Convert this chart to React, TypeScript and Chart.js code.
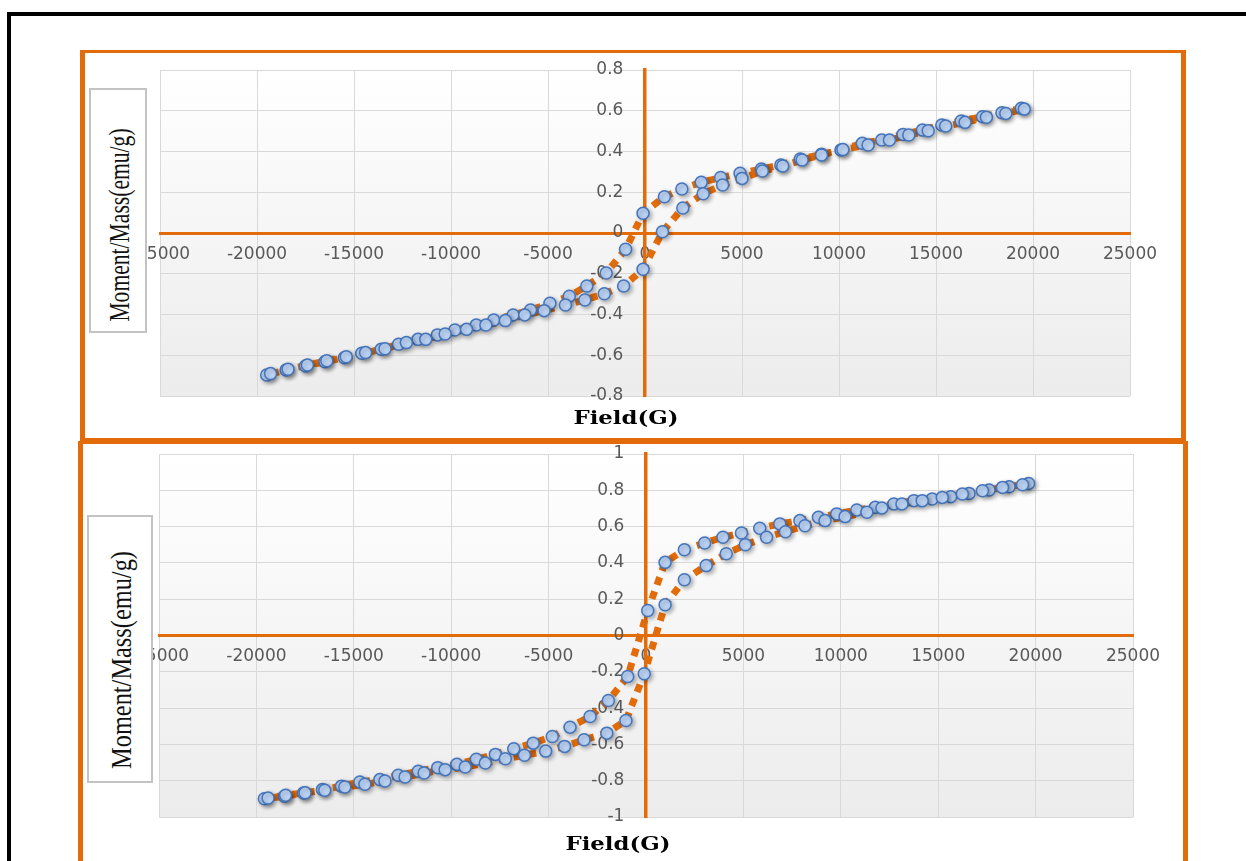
import React, { useEffect, useRef } from "react";
import { Chart, registerables } from "chart.js";

Chart.register(...registerables);

// ---------- DATA ----------
// Top chart: descending branch (from +H to -H)
const topDescField = [19400, 18400, 17400, 16300, 15300, 14300, 13300, 12200, 11200, 10100, 9100, 8000, 7000, 6000, 4900, 3900, 2900, 1900, 1000, -100, -1000, -2000, -3000, -3900, -4900, -5900, -6800, -7800, -8700, -9800, -10700, -11700, -12700, -13600, -14600, -15500, -16500, -17500, -18500, -19500];
const topDescMoment = [0.612, 0.590, 0.571, 0.550, 0.530, 0.505, 0.484, 0.456, 0.440, 0.407, 0.386, 0.363, 0.334, 0.314, 0.293, 0.272, 0.249, 0.216, 0.178, 0.097, -0.080, -0.196, -0.260, -0.310, -0.345, -0.378, -0.402, -0.427, -0.452, -0.476, -0.500, -0.522, -0.546, -0.571, -0.590, -0.612, -0.632, -0.653, -0.672, -0.697];
// Top chart: ascending branch (from -H to +H)
const topAscField = [-19300, -18400, -17400, -16400, -15400, -14400, -13400, -12300, -11300, -10300, -9200, -8200, -7200, -6200, -5200, -4100, -3100, -2100, -1100, -100, 900, 1950, 3000, 4000, 5000, 6050, 7100, 8100, 9100, 10200, 11500, 12600, 13600, 14600, 15500, 16500, 17600, 18600, 19550];
const topAscMoment = [-0.690, -0.669, -0.648, -0.627, -0.607, -0.587, -0.568, -0.538, -0.522, -0.496, -0.473, -0.452, -0.430, -0.402, -0.381, -0.353, -0.329, -0.298, -0.260, -0.178, 0.006, 0.123, 0.193, 0.236, 0.268, 0.304, 0.329, 0.358, 0.383, 0.410, 0.432, 0.456, 0.481, 0.502, 0.525, 0.543, 0.568, 0.587, 0.608];

// Bottom chart: descending branch
const botDescField = [19640, 18640, 17610, 16580, 15640, 14690, 13750, 12720, 11770, 10820, 9790, 8850, 7900, 6870, 5840, 4900, 3950, 3010, 1970, 980, 90, -940, -1930, -2870, -3900, -4810, -5790, -6790, -7730, -8710, -9710, -10690, -11690, -12720, -13660, -14690, -15630, -16610, -17580, -18560, -19590];
const botDescMoment = [0.838, 0.820, 0.802, 0.783, 0.765, 0.752, 0.743, 0.725, 0.706, 0.692, 0.670, 0.651, 0.633, 0.615, 0.591, 0.565, 0.541, 0.510, 0.472, 0.403, 0.138, -0.226, -0.358, -0.446, -0.505, -0.556, -0.593, -0.624, -0.655, -0.682, -0.710, -0.728, -0.748, -0.770, -0.794, -0.807, -0.830, -0.849, -0.868, -0.886, -0.899];
// Bottom chart: ascending branch
const botAscField = [-19400, -18500, -17500, -16490, -15460, -14430, -13400, -12370, -11390, -10310, -9280, -8250, -7220, -6240, -5150, -4180, -3180, -2010, -1030, -90, 980, 1970, 3090, 4120, 5100, 6190, 7160, 8160, 9190, 10220, 11340, 12110, 13140, 14180, 15210, 16240, 17270, 18300, 19330];
const botAscMoment = [-0.895, -0.880, -0.866, -0.853, -0.835, -0.820, -0.802, -0.780, -0.758, -0.739, -0.725, -0.703, -0.679, -0.660, -0.637, -0.611, -0.574, -0.538, -0.468, -0.211, 0.169, 0.307, 0.385, 0.450, 0.500, 0.541, 0.572, 0.605, 0.633, 0.655, 0.679, 0.703, 0.725, 0.743, 0.761, 0.780, 0.798, 0.816, 0.831];

const xTickRange = [-25000, 25000];
const xTickStep = 5000;
const topYRange = [-0.8, 0.8];
const botYRange = [-1, 1];
const yTickStep = 0.2;
const xTitle = "Field(G)";
const yTitle = "Moment/Mass(emu/g)";

// ---------- STYLE ----------
const ORANGE = "#E36C0A";
const GRID = "#d9d9d9";
const TICK = "#595959";
const Y_LABEL_GAP = "\u00A0\u00A0\u00A0\u00A0";

const zip = (xs: number[], ys: number[]) => xs.map((x, i) => ({ x, y: ys[i] }));

const bgPlugin = {
  id: "plotBg",
  beforeDraw(chart: any) {
    const { ctx, chartArea } = chart;
    const { left, top, right, bottom } = chartArea;
    const g = ctx.createLinearGradient(0, top, 0, bottom);
    g.addColorStop(0, "#ffffff");
    g.addColorStop(1, "#ececec");
    ctx.save();
    ctx.fillStyle = g;
    ctx.fillRect(left, top, right - left, bottom - top);
    ctx.restore();
  },
};

const shadowPlugin = {
  id: "markerShadow",
  beforeDatasetDraw(chart: any, args: any) {
    if (args.index !== 0) return;
    const ctx = chart.ctx;
    ctx.save();
    ctx.shadowColor = "rgba(0,0,0,0.3)";
    ctx.shadowBlur = 4;
    ctx.shadowOffsetX = 2;
    ctx.shadowOffsetY = 2;
  },
  afterDatasetDraw(chart: any, args: any) {
    if (args.index !== 0) return;
    chart.ctx.restore();
  },
};

function makeConfig(points: { x: number; y: number }[], yRange: number[], pad: any) {
  return {
    type: "scatter" as const,
    data: {
      datasets: [
        {
          // markers (drawn on top)
          data: points,
          showLine: false,
          pointRadius: 6,
          pointBackgroundColor: "#bcd4f5",
          pointBorderColor: "#4374bd",
          pointBorderWidth: 1.5,
        },
        {
          // dotted connecting line
          data: points,
          showLine: true,
          borderColor: ORANGE,
          borderWidth: 7,
          borderDash: [8, 7],
          borderCapStyle: "butt",
          tension: 0,
          pointRadius: 0,
        },
      ],
    },
    options: {
      responsive: false,
      animation: false,
      devicePixelRatio: 1,
      events: [],
      layout: { padding: pad },
      plugins: { legend: { display: false }, tooltip: { enabled: false }, title: { display: false } },
      scales: {
        x: {
          type: "linear",
          min: xTickRange[0],
          max: xTickRange[1],
          position: { y: 0 },
          ticks: {
            stepSize: xTickStep,
            autoSkip: false,
            maxRotation: 0,
            color: TICK,
            font: { family: "DejaVu Sans", size: 17 },
            padding: 11,
            callback: (v: number) => String(v),
          },
          grid: {
            drawTicks: false,
            lineWidth: 1,
            color: (c: any) => (c.tick && c.tick.value === 0 ? "rgba(0,0,0,0)" : GRID),
          },
          border: { display: true, color: ORANGE, width: 3 },
        },
        y: {
          type: "linear",
          min: yRange[0],
          max: yRange[1],
          position: { x: 0 },
          ticks: {
            stepSize: yTickStep,
            color: TICK,
            font: { family: "DejaVu Sans", size: 17 },
            padding: 0,
            callback: (v: number) => {
              const r = Math.round(v * 10) / 10;
              return (r === 0 ? "0" : String(r)) + Y_LABEL_GAP;
            },
          },
          grid: {
            drawTicks: false,
            lineWidth: 1,
            color: (c: any) => (c.tick && Math.abs(c.tick.value) < 1e-9 ? "rgba(0,0,0,0)" : GRID),
          },
          border: { display: true, color: ORANGE, width: 3.5 },
        },
      },
    },
    plugins: [bgPlugin, shadowPlugin],
  };
}

function HysteresisChart(props: {
  points: { x: number; y: number }[];
  yRange: number[];
  left: number;
  top: number;
  width: number;
  height: number;
  pad: any;
}) {
  const ref = useRef<HTMLCanvasElement | null>(null);
  useEffect(() => {
    if (!ref.current) return;
    const chart = new Chart(ref.current, makeConfig(props.points, props.yRange, props.pad) as any);
    return () => chart.destroy();
  }, []);
  return (
    <canvas
      ref={ref}
      width={props.width}
      height={props.height}
      style={{ position: "absolute", left: props.left, top: props.top, width: props.width, height: props.height }}
    />
  );
}

function YTitle(props: { left: number; top: number; width: number; height: number; textX: number; textY: number; scale: number }) {
  return (
    <div
      style={{
        position: "absolute",
        left: props.left,
        top: props.top,
        width: props.width,
        height: props.height,
        boxSizing: "border-box",
        border: "2px solid #c3c3c3",
        background: "#ffffff",
      }}
    >
      <div
        style={{
          position: "absolute",
          left: props.textX,
          top: props.textY,
          transform: `translate(-50%, -50%) rotate(-90deg) scaleX(${props.scale})`,
          whiteSpace: "nowrap",
          fontFamily: "'Liberation Serif', serif",
          fontSize: 29,
          lineHeight: 1,
          color: "#111",
        }}
      >
        {yTitle}
      </div>
    </div>
  );
}

function XTitle(props: { cx: number; cy: number }) {
  return (
    <div
      style={{
        position: "absolute",
        left: props.cx,
        top: props.cy,
        transform: "translate(-50%, -50%) scaleX(1.2)",
        whiteSpace: "nowrap",
        fontFamily: "'DejaVu Serif', serif",
        fontWeight: "bold",
        fontSize: 19,
        lineHeight: 1,
        color: "#000",
      }}
    >
      {xTitle}
    </div>
  );
}

export default function App() {
  const topPoints = [...zip(topDescField, topDescMoment), ...zip(topAscField, topAscMoment)];
  const botPoints = [...zip(botDescField, botDescMoment), ...zip(botAscField, botAscMoment)];
  return (
    <div style={{ position: "absolute", left: 0, top: 0, width: 1246, height: 861, overflow: "hidden", background: "#fff" }}>
      {/* outer black frame */}
      <div style={{ position: "absolute", left: 7, top: 12, width: 1400, height: 1000, borderLeft: "4px solid #000", borderTop: "4px solid #000" }} />
      {/* top orange box */}
      <div style={{ position: "absolute", left: 80, top: 50, width: 1106, height: 391, boxSizing: "border-box", borderStyle: "solid", borderColor: ORANGE, borderWidth: "3px 5px 3px 5px" }} />
      {/* bottom orange box */}
      <div style={{ position: "absolute", left: 78, top: 441, width: 1110, height: 500, boxSizing: "border-box", borderStyle: "solid", borderColor: ORANGE, borderWidth: "3px 5px 3px 5px" }} />

      <HysteresisChart points={topPoints} yRange={topYRange} left={86} top={50} width={1094} height={388} pad={{ left: 74, top: 20, right: 50, bottom: 42 }} />
      <HysteresisChart points={botPoints} yRange={botYRange} left={84} top={434} width={1096} height={422} pad={{ left: 75, top: 20, right: 47, bottom: 39 }} />

      <YTitle left={89} top={88} width={58} height={245} textX={28} textY={135} scale={0.745} />
      <YTitle left={87} top={515} width={66} height={268} textX={32} textY={143} scale={0.84} />

      <XTitle cx={626} cy={417} />
      <XTitle cx={618} cy={843} />
    </div>
  );
}
